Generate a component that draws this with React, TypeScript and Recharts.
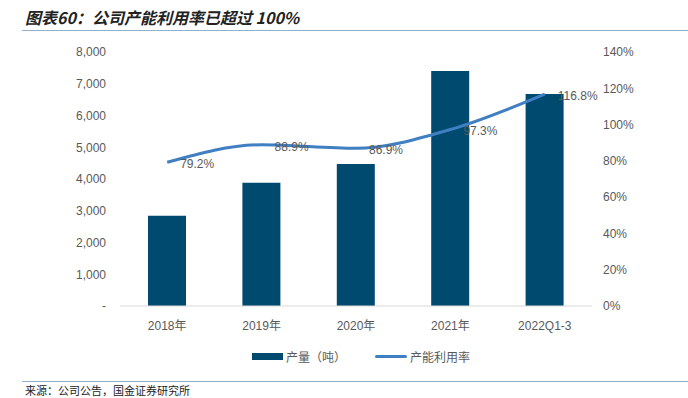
import React from 'react';
import {
  ComposedChart,
  Bar,
  Line,
  XAxis,
  YAxis,
  LabelList,
} from 'recharts';

const categories = ['2018年', '2019年', '2020年', '2021年', '2022Q1-3'];
const output = [2840, 3880, 4470, 7400, 6680];
const utilization = [79.2, 88.9, 86.9, 97.3, 116.8];
const leftTicks = [0, 1000, 2000, 3000, 4000, 5000, 6000, 7000, 8000];
const rightTicks = [0, 20, 40, 60, 80, 100, 120, 140];
const slotTicks = [0, 1, 2, 3, 4, 5];

const data = categories.map((name, i) => ({
  name,
  output: output[i],
  utilization: utilization[i],
}));

const FONT = '"Liberation Sans", Arial, "Noto Sans CJK SC", sans-serif';
const TEXT = '#595959';
const BAR = '#004a6f';
const LINE = '#3f7fc2';

const PointLabel = (props: any) => {
  const { x, y, value } = props;
  return (
    <text
      x={x + 13}
      y={y + 2}
      fontSize={12}
      fill={TEXT}
      fontFamily={FONT}
      textAnchor="start"
      dominantBaseline="central"
    >
      {`${value.toFixed(1)}%`}
    </text>
  );
};

export default function App() {
  return (
    <div
      style={{
        position: 'absolute',
        left: 0,
        top: 0,
        width: 688,
        height: 398,
        background: '#fff',
        overflow: 'hidden',
        fontFamily: FONT,
      }}
    >
      <div
        style={{
          position: 'absolute',
          left: 25,
          top: 7,
          fontSize: 16,
          fontStyle: 'italic',
          fontWeight: 'bold',
          color: '#222',
          fontFamily: '"Noto Sans CJK SC", sans-serif',
          lineHeight: '20px',
          whiteSpace: 'nowrap',
        }}
      >
        图表60：公司产能利用率已超过 100%
      </div>
      <div
        style={{
          position: 'absolute',
          left: 22,
          top: 30,
          width: 666,
          height: 1,
          background: '#8fb0c8',
        }}
      />

      <ComposedChart
        width={688}
        height={398}
        data={data}
        margin={{ top: 52, right: 36, bottom: 62, left: 60 }}
        style={{ position: 'absolute', left: 0, top: 0 }}
      >
        <XAxis
          xAxisId="slots"
          type="number"
          domain={[0, 5]}
          ticks={slotTicks}
          height={0}
          axisLine={false}
          tickLine={{ stroke: '#d9d9d9' }}
          tickSize={4}
          tickFormatter={() => ''}
        />
        <XAxis
          xAxisId="cat"
          dataKey="name"
          height={30}
          axisLine={{ stroke: '#d9d9d9' }}
          tickLine={false}
          tickMargin={9}
          tick={{ fontSize: 12, fill: TEXT, fontFamily: FONT }}
          interval={0}
        />
        <YAxis
          yAxisId="left"
          width={60}
          domain={[0, 8000]}
          ticks={leftTicks}
          axisLine={false}
          tickLine={false}
          tickMargin={8}
          tick={{ fontSize: 12, fill: TEXT, fontFamily: FONT }}
          tickFormatter={(v: number) => (v === 0 ? '-' : v.toLocaleString('en-US'))}
        />
        <YAxis
          yAxisId="right"
          orientation="right"
          width={60}
          domain={[0, 140]}
          ticks={rightTicks}
          axisLine={false}
          tickLine={false}
          tickMargin={5}
          tick={{ fontSize: 12, fill: TEXT, fontFamily: FONT, textAnchor: 'start' }}
          tickFormatter={(v: number) => `${v}%`}
        />
        <Bar
          xAxisId="cat"
          yAxisId="left"
          dataKey="output"
          fill={BAR}
          barSize={38}
          isAnimationActive={false}
        />
        <Line
          xAxisId="cat"
          yAxisId="right"
          dataKey="utilization"
          type="monotone"
          stroke={LINE}
          strokeWidth={3}
          dot={false}
          activeDot={false}
          isAnimationActive={false}
        >
          <LabelList dataKey="utilization" content={<PointLabel />} />
        </Line>
      </ComposedChart>

      <div
        style={{
          position: 'absolute',
          left: 252,
          top: 348,
          display: 'flex',
          alignItems: 'center',
          fontSize: 12,
          color: TEXT,
          whiteSpace: 'nowrap',
        }}
      >
        <span style={{ display: 'inline-block', width: 31, height: 7, background: BAR, marginRight: 3 }} />
        <span style={{ marginRight: 29 }}>产量（吨）</span>
        <span style={{ display: 'inline-block', width: 32, height: 3, background: LINE, borderRadius: 2, marginRight: 3 }} />
        <span>产能利用率</span>
      </div>

      <div
        style={{
          position: 'absolute',
          left: 22,
          top: 381,
          width: 666,
          height: 1,
          background: '#8fb0c8',
        }}
      />
      <div
        style={{
          position: 'absolute',
          left: 25,
          top: 384,
          fontSize: 11,
          color: '#222',
          fontFamily: '"Noto Sans CJK SC", sans-serif',
          lineHeight: '13px',
          whiteSpace: 'nowrap',
        }}
      >
        来源：公司公告，国金证券研究所
      </div>
    </div>
  );
}
